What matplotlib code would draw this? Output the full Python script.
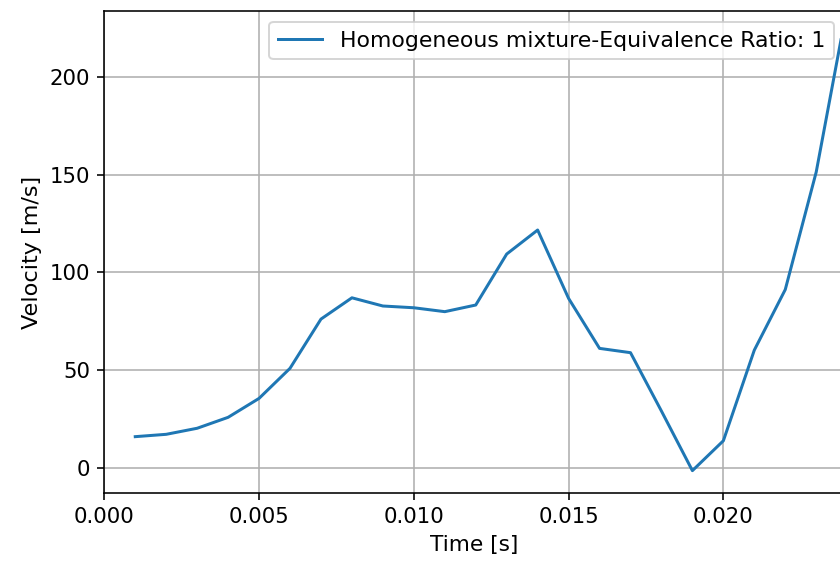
import matplotlib
matplotlib.use("Agg")
import matplotlib.pyplot as plt

# Flame-front velocity over time (homogeneous mixture, phi = 1)
time_s = [0.001, 0.002, 0.003, 0.004, 0.005, 0.006, 0.007, 0.008, 0.009, 0.010,
          0.011, 0.012, 0.013, 0.014, 0.015, 0.016, 0.017, 0.018, 0.019, 0.020,
          0.021, 0.022, 0.023, 0.024]
velocity = [15.9, 17.1, 20.2, 25.8, 35.5, 50.9, 76.1, 87.0, 82.8, 81.9,
            79.9, 83.3, 109.4, 121.7, 86.7, 61.1, 58.9, 29.0, -1.5, 13.8,
            60.2, 91.2, 151.4, 236.0]
series_label = "Homogeneous mixture-Equivalence Ratio: 1"

W, H, DPI = 840, 570, 144
fig = plt.figure(figsize=(W / DPI, H / DPI), dpi=DPI)
left, right, top, bottom = 104.3, 845.0, 10.7, 493.3
ax = fig.add_axes([left / W, (H - bottom) / H, (right - left) / W, (bottom - top) / H])

ax.plot(time_s, velocity, color="#1f77b4", linewidth=1.5, label=series_label)
ax.set_xlim(0, 0.02393)
ax.set_ylim(-13.1, 234.0)
ax.set_xticks([0.000, 0.005, 0.010, 0.015, 0.020])
ax.set_yticks([0, 50, 100, 150, 200])
ax.tick_params(labelsize=10.6)
ax.grid(True)
ax.set_xlabel("Time [s]", fontsize=10.8)
ax.set_ylabel("Velocity [m/s]", fontsize=11.2)
ax.legend(loc="upper right", fontsize=11)

fig.savefig("out.png", dpi=DPI)
